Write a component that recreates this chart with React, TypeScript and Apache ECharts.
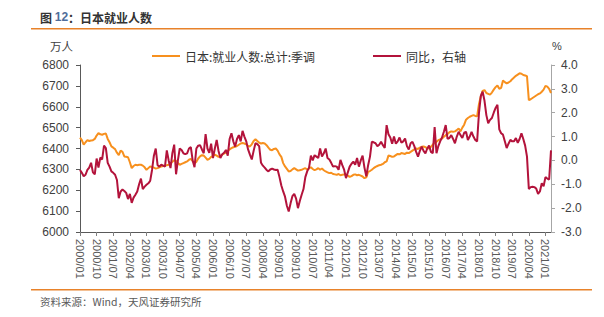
import React, { useEffect, useRef } from "react";
import * as echarts from "echarts";

// Monthly categories 2000/01 … 2021/04
const months: string[] = [];
for (let y = 2000; y <= 2021; y++) {
  for (let m = 1; m <= 12; m++) {
    if (y === 2021 && m > 4) break;
    months.push(`${y}/${m < 10 ? "0" + m : m}`);
  }
}

// 日本:就业人数:总计:季调 (万人)
const employment: number[] = [
  // 2000
  6452, 6440, 6418, 6430, 6440, 6436, 6438, 6440, 6446, 6462, 6474, 6468,
  // 2001
  6466, 6470, 6472, 6446, 6430, 6410, 6404, 6397, 6380, 6368, 6390, 6384,
  // 2002
  6362, 6360, 6358, 6334, 6306, 6316, 6322, 6320, 6322, 6322, 6318, 6310,
  // 2003
  6298, 6306, 6314, 6312, 6308, 6304, 6306, 6310, 6314, 6316, 6318, 6320,
  // 2004
  6322, 6328, 6336, 6344, 6340, 6330, 6322, 6326, 6330, 6334, 6338, 6346,
  // 2005
  6350, 6340, 6330, 6336, 6352, 6362, 6368, 6366, 6356, 6346, 6350, 6360,
  // 2006
  6364, 6370, 6366, 6360, 6364, 6370, 6376, 6380, 6388, 6396, 6402, 6406,
  // 2007
  6408, 6412, 6418, 6424, 6426, 6424, 6420, 6412, 6410, 6420, 6436, 6444,
  // 2008
  6436, 6428, 6424, 6426, 6424, 6416, 6404, 6394, 6392, 6398, 6400, 6390,
  // 2009
  6372, 6360, 6330, 6314, 6302, 6290, 6292, 6300, 6306, 6300, 6294, 6296,
  // 2010
  6298, 6302, 6306, 6298, 6304, 6310, 6302, 6296, 6300, 6306, 6298, 6304,
  // 2011
  6296, 6290, 6286, 6282, 6284, 6278, 6276, 6274, 6278, 6272, 6274, 6276,
  // 2012
  6274, 6270, 6264, 6268, 6274, 6276, 6272, 6274, 6270, 6266, 6258, 6262,
  // 2013
  6288, 6292, 6298, 6306, 6312, 6316, 6320, 6322, 6326, 6334, 6338, 6366,
  // 2014
  6364, 6360, 6362, 6368, 6374, 6372, 6378, 6376, 6374, 6380, 6378, 6384,
  // 2015
  6390, 6396, 6400, 6398, 6404, 6408, 6410, 6406, 6402, 6400, 6408, 6418,
  // 2016
  6428, 6432, 6440, 6444, 6448, 6456, 6464, 6470, 6478, 6482, 6480, 6482,
  // 2017
  6488, 6496, 6482, 6500, 6514, 6538, 6546, 6552, 6556, 6560, 6556, 6554,
  // 2018
  6612, 6650, 6676, 6680, 6666, 6662, 6658, 6668, 6682, 6694, 6702, 6686,
  // 2019
  6690, 6726, 6718, 6712, 6716, 6722, 6732, 6740, 6748, 6754, 6760, 6758,
  // 2020
  6752, 6750, 6746, 6632, 6636, 6642, 6648, 6654, 6660, 6664, 6672, 6682,
  // 2021
  6700, 6696, 6686, 6666,
];

// 同比 (%)
const yoy: number[] = [
  // 2000
  -0.4, -0.52, -0.66, -0.6, -0.4, -0.3, -0.1, -0.5, -0.58, 0.08, -0.3, 0.12,
  // 2001
  0.04, 0.62, 0.52, -0.1, -0.26, -0.46, -0.52, -0.6, -0.82, -1.58, -1.3, -1.22,
  // 2002
  -1.28, -1.36, -1.62, -1.4, -1.78, -1.56, -1.44, -1.3, -1.0, -0.76, -1.2, -1.1,
  // 2003
  -1.02, -0.96, -0.86, -0.4, 0.2, 0.5, -0.2, -0.26, -0.18, -0.22, -0.26, 0.42,
  // 2004
  0.0, -0.32, 0.3, 0.66, -0.58, 0.0, 0.5, 0.44, 0.3, 0.26, 0.3, 0.5,
  // 2005
  0.56, 0.0, -0.28, 0.5, 0.62, 0.64, 0.46, 0.3, 1.1, 0.5, 0.32, 0.7,
  // 2006
  0.1, 0.5, 0.86, 0.4, 0.1, 0.26, 0.32, 0.44, 0.2, 0.9, 1.14, 0.8,
  // 2007
  0.58, 0.9, 1.06, 0.8, 1.24, 1.0, 0.8, 0.46, 0.24, 0.04, 0.4, 0.72,
  // 2008
  0.68, 0.6, -0.1, -0.22, -0.3, -0.4, -0.46, -0.38, -0.34, -0.38, -0.4, -0.39,
  // 2009
  -0.7, -1.05, -1.3, -1.52, -1.9, -2.14, -1.8, -1.5, -1.4, -1.6, -2.0, -1.7,
  // 2010
  -1.44, -1.2, -0.7, -0.46, -0.3, 0.2, 0.0, 0.22, 0.16, 0.1, 0.5, 0.16,
  // 2011
  0.3, 0.5, 0.1, 0.04, -0.1, -0.26, -0.24, -0.26, -0.39, 0.02, -0.2, -0.39,
  // 2012
  -0.74, -0.5, -0.26, -0.14, -0.05, -0.18, 0.1, -0.26, 0.0, 0.2, -0.3, -0.67,
  // 2013
  -0.2, 0.16, 0.78, 0.76, 0.72, 0.6, 0.66, 0.78, 0.64, 0.52, 1.48, 1.1,
  // 2014
  0.96, 0.7, 1.0, 0.7, 0.8, 0.96, 0.74, 0.8, 0.92, 0.6, 0.46, 0.72,
  // 2015
  0.78, 0.6, 0.36, 0.16, 0.4, 0.58, 0.4, 0.3, 0.5, 0.62, 0.36, 0.3,
  // 2016
  1.4, 0.3, 0.6, 0.8, 0.96, 1.2, 1.48, 0.9, 0.94, 1.06, 0.9, 0.72,
  // 2017
  1.0, 1.2, 1.06, 0.94, 1.16, 1.2, 0.86, 1.0, 1.2, 1.0, 0.86, 0.8,
  // 2018
  1.98, 2.7, 2.88, 2.5, 1.9, 1.56, 1.7, 1.78, 2.0, 2.2, 2.33, 1.3,
  // 2019
  1.14, 1.08, 0.8, 0.52, 0.7, 0.86, 0.8, 0.8, 0.94, 0.74, 0.9, 1.14,
  // 2020
  0.9, 0.62, 0.16, -1.2, -1.12, -1.1, -1.12, -1.18, -1.4, -1.3, -0.96, -1.08,
  // 2021
  -0.7, -0.76, -0.8, 0.42,
];

const seriesNames = ["日本:就业人数:总计:季调", "同比，右轴"];
const titleText = "日本就业人数";
const figureNo = "12";
const sourceText = "资料来源：Wind，天风证券研究所";

const ORANGE = "#F7901E";
const RED = "#B3133B";
const RULE = "#E8822A";
const FONT = "'Liberation Sans', Arial, 'Noto Sans CJK SC', sans-serif";
const CJK = "'Noto Sans CJK SC', 'Liberation Sans', sans-serif";

export default function App() {
  const ref = useRef<HTMLDivElement>(null);

  useEffect(() => {
    document.body.style.margin = "0";
    if (!ref.current) return;
    const chart = echarts.init(ref.current, undefined, { renderer: "svg" });

    chart.setOption({
      animation: false,
      backgroundColor: "#ffffff",
      textStyle: { fontFamily: FONT },
      grid: { left: 80, right: 53, top: 65, bottom: 85 },
      legend: {
        left: 147,
        top: 45,
        itemWidth: 28,
        itemHeight: 2,
        itemGap: 58,
        icon: "rect",
        textStyle: { fontSize: 12, color: "#333333", fontFamily: CJK },
        data: seriesNames,
      },
      xAxis: {
        type: "category",
        boundaryGap: false,
        data: months,
        axisLine: { onZero: false, lineStyle: { color: "#595959", width: 1 } },
        axisTick: { show: true, interval: 8, length: 4, lineStyle: { color: "#808080" } },
        axisLabel: {
          interval: 8,
          rotate: -90,
          fontSize: 11,
          color: "#595959",
          margin: 7,
          fontFamily: FONT,
        },
        splitLine: { show: false },
      },
      yAxis: [
        {
          type: "value",
          min: 6000,
          max: 6800,
          interval: 100,
          axisLine: { show: true, lineStyle: { color: "#595959" } },
          axisTick: { show: true, length: 4, lineStyle: { color: "#595959" } },
          axisLabel: {
            fontSize: 12,
            color: "#404040",
            margin: 11,
            fontFamily: FONT,
            formatter: (v: number) => String(v),
          },
          splitLine: { show: false },
        },
        {
          type: "value",
          min: -3,
          max: 4,
          interval: 1,
          position: "right",
          axisLine: { show: true, lineStyle: { color: "#A6A6A6" } },
          axisTick: { show: true, length: 4, lineStyle: { color: "#A6A6A6" } },
          axisLabel: {
            fontSize: 12,
            color: "#404040",
            margin: 10,
            fontFamily: FONT,
            formatter: (v: number) => v.toFixed(1),
          },
          splitLine: { show: false },
        },
      ],
      series: [
        {
          name: seriesNames[0],
          type: "line",
          yAxisIndex: 0,
          data: employment,
          showSymbol: false,
          color: ORANGE,
          lineStyle: { width: 2, color: ORANGE },
          z: 2,
        },
        {
          name: seriesNames[1],
          type: "line",
          yAxisIndex: 1,
          data: yoy,
          showSymbol: false,
          color: RED,
          lineStyle: { width: 2, color: RED },
          z: 3,
        },
      ],
      graphic: [
        {
          type: "text",
          left: 40,
          top: 11,
          style: {
            text: `{a|图 }{n|${figureNo}}{a|：${titleText}}`,
            rich: {
              a: { fontSize: 12, fontWeight: "bold", fill: "#333333", fontFamily: CJK },
              n: { fontSize: 12, fontWeight: "bold", fill: "#4F6D9A", fontFamily: FONT },
            },
          },
        },
        {
          type: "rect",
          shape: { x: 31, y: 28, width: 561, height: 1.5 },
          style: { fill: RULE },
        },
        {
          type: "text",
          left: 50,
          top: 40,
          style: { text: "万人", fontSize: 11.5, fill: "#404040", fontFamily: CJK },
        },
        {
          type: "text",
          left: 552,
          top: 40,
          style: { text: "%", fontSize: 11, fill: "#404040", fontFamily: FONT },
        },
        {
          type: "rect",
          shape: { x: 31, y: 289, width: 561, height: 1.5 },
          style: { fill: RULE },
        },
        {
          type: "text",
          left: 40,
          top: 296,
          style: { text: sourceText, fontSize: 10.5, fill: "#595959", fontFamily: CJK },
        },
      ],
    });

    return () => chart.dispose();
  }, []);

  return <div ref={ref} style={{ width: 604, height: 317 }} />;
}
